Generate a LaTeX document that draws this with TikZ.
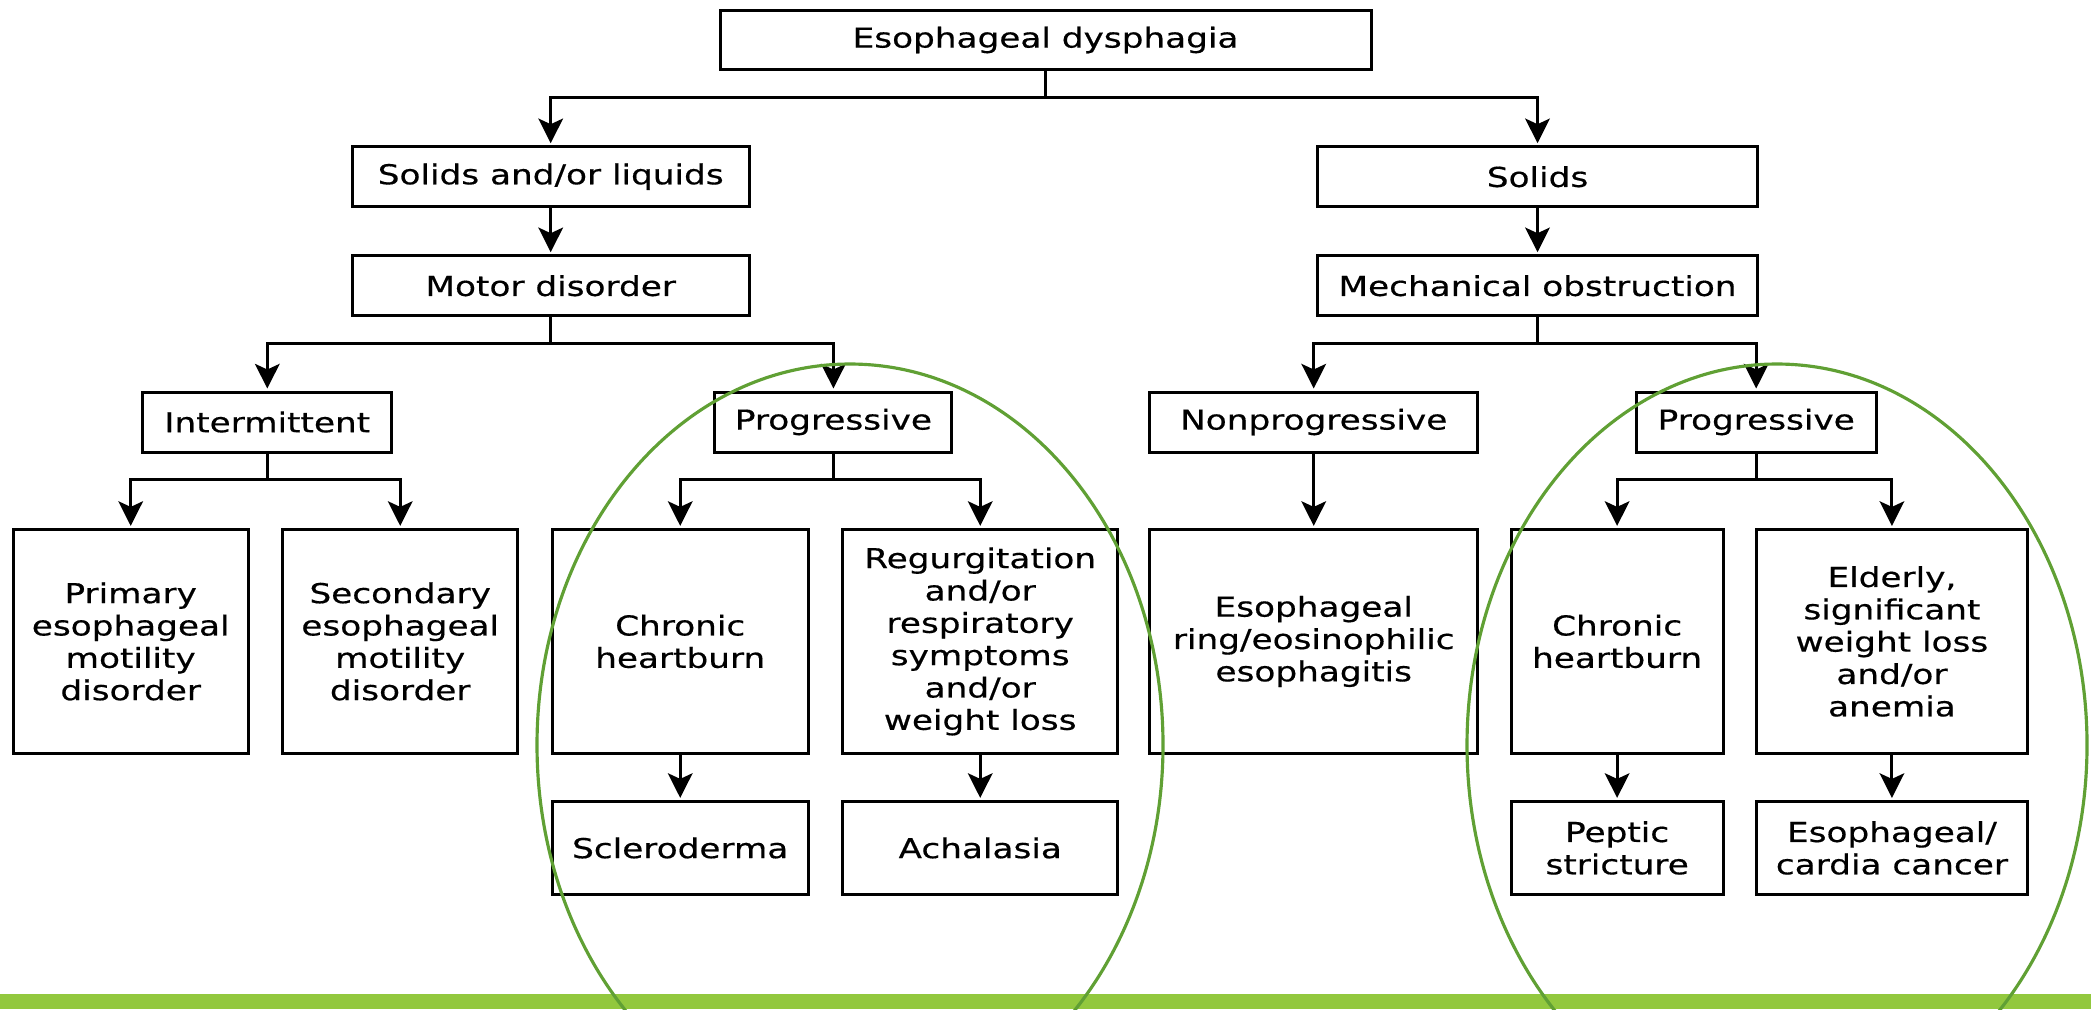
\documentclass[tikz,border=0pt]{standalone}
\usepackage{fontspec}
\setmainfont{DejaVu Sans}[FakeStretch=1.25, FakeBold=0.5]
\usetikzlibrary{arrows.meta, positioning, calc}
\definecolor{barGreen}{RGB}{146,200,62}
\definecolor{ringGreen}{RGB}{96,160,52}
\tikzset{
  dx box/.style={
    rectangle, draw=black, line width=0.85pt,
    minimum height=0.6cm, align=center, outer sep=0pt,
    font=\fontsize{7.8}{9.2}\selectfont, inner sep=2pt
  },
  dx tall/.style={
    dx box, minimum height=2.24cm
  },
  dx low/.style={
    dx box, minimum height=0.93cm
  },
  dx line/.style={
    line width=0.85pt, draw=black
  },
  dx arrow/.style={
    dx line, -{Stealth[length=7pt, width=7pt, inset=1.6pt]}, shorten >=1pt
  },
  dx ring/.style={
    draw=ringGreen, line width=0.9pt
  }
}

\begin{document}
\begin{tikzpicture}
  \useasboundingbox (0,0) rectangle (20.91,-10.09);
  \clip (0,0) rectangle (20.91,-10.09);
  \fill [barGreen] (0,-9.935) rectangle (20.91,-10.09);

  % upper part of the tree
  \node (top) [dx box, minimum width=6.51cm, minimum height=0.59cm] at (10.455,-0.40) {Esophageal dysphagia};
  \node (sol) [dx box, minimum width=3.97cm] at (5.507,-1.767) {Solids and/or liquids};
  \node (solids) [dx box, minimum width=4.40cm] at (15.375,-1.767) {Solids};
  \node (motor) [dx box, minimum width=3.97cm, below=0.49cm of sol] {Motor disorder};
  \node (mech) [dx box, minimum width=4.40cm, below=0.49cm of solids] {Mechanical obstruction};

  % tall boxes, left to right
  \node (prim) [dx tall, minimum width=2.35cm] at (1.307,-6.414) {Primary\\esophageal\\motility\\disorder};
  \node (sec) [dx tall, minimum width=2.35cm, right=0.345cm of prim] {Secondary\\esophageal\\motility\\disorder};
  \node (chronL) [dx tall, minimum width=2.56cm, right=0.345cm of sec] {Chronic\\heartburn};
  \node (regurg) [dx tall, minimum width=2.75cm, right=0.345cm of chronL] {Regurgitation\\and/or\\respiratory\\symptoms\\and/or\\weight loss};
  \node (ring) [dx tall, minimum width=3.28cm, right=0.32cm of regurg] {Esophageal\\ring/eosinophilic\\esophagitis};
  \node (chronR) [dx tall, minimum width=2.12cm, right=0.334cm of ring] {Chronic\\heartburn};
  \node (elder) [dx tall, minimum width=2.71cm, right=0.333cm of chronR] {Elderly,\\significant\\weight loss\\and/or\\anemia};

  % middle row
  \node (inter) [dx box, minimum width=2.49cm] at (2.673,-4.22) {Intermittent};
  \node (progL) [dx box, minimum width=2.37cm] at (8.334,-4.22) {Progressive};
  \node (nonprog) [dx box, minimum width=3.28cm, above=0.774cm of ring] {Nonprogressive};
  \node (progR) [dx box, minimum width=2.40cm] at (17.562,-4.22) {Progressive};

  % diagnoses
  \node (sclero) [dx low, minimum width=2.56cm, below=0.48cm of chronL] {Scleroderma};
  \node (achal) [dx low, minimum width=2.75cm, below=0.48cm of regurg] {Achalasia};
  \node (peptic) [dx low, minimum width=2.12cm, below=0.48cm of chronR] {Peptic\\stricture};
  \node (cancer) [dx low, minimum width=2.71cm, below=0.48cm of elder] {Esophageal/\\cardia cancer};

  \draw [dx line] (top.south) -- ++(0,-0.28) coordinate (f1);
  \draw [dx arrow] (f1) -| (sol);
  \draw [dx arrow] (f1) -| (solids);
  \draw [dx arrow] (sol) -- (motor);
  \draw [dx arrow] (solids) -- (mech);

  \draw [dx line] (motor.south) -- ++(0,-0.28) coordinate (f2);
  \draw [dx arrow] (f2) -| (inter);
  \draw [dx arrow] (f2) -| (progL);
  \draw [dx line] (mech.south) -- ++(0,-0.28) coordinate (f3);
  \draw [dx arrow] (f3) -| (nonprog);
  \draw [dx arrow] (f3) -| (progR);

  \draw [dx line] (inter.south) -- ++(0,-0.27) coordinate (f4);
  \draw [dx arrow] (f4) -| (prim);
  \draw [dx arrow] (f4) -| (sec);
  \draw [dx line] (progL.south) -- ++(0,-0.27) coordinate (f5);
  \draw [dx arrow] (f5) -| (chronL);
  \draw [dx arrow] (f5) -| (regurg);
  \draw [dx arrow] (nonprog) -- (ring);
  \draw [dx line] (progR.south) -- ++(0,-0.27) coordinate (f6);
  \draw [dx arrow] (f6) -| (chronR);
  \draw [dx arrow] (f6) -| (elder);

  \draw [dx arrow] (chronL) -- (sclero);
  \draw [dx arrow] (regurg) -- (achal);
  \draw [dx arrow] (chronR) -- (peptic);
  \draw [dx arrow] (elder) -- (cancer);

  % green rings over the progressive branches
  \draw [dx ring] (8.50,-7.45) ellipse [x radius=3.13, y radius=3.81];
  \draw [dx ring] (17.77,-7.45) ellipse [x radius=3.10, y radius=3.81];
\end{tikzpicture}
\end{document}
